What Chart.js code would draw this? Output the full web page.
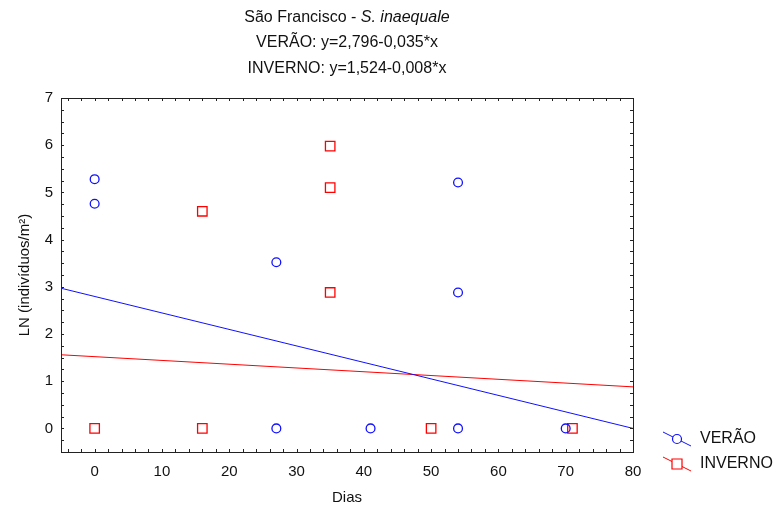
<!DOCTYPE html>
<html>
<head>
<meta charset="utf-8">
<script src="https://cdn.jsdelivr.net/npm/chart.js@4.4.1/dist/chart.umd.min.js"></script>
<style>
  body { margin: 0; background: #fff; }
  #wrap { width: 780px; height: 510px; }
</style>
</head>
<body>
<div id="wrap"><canvas id="grafico" width="780" height="510"></canvas></div>
<script>
// dados
const veraoX = [0, 0, 27, 27, 41, 54, 54, 54, 70]
const veraoY = [5.28, 4.76, 3.52, 0, 0, 5.21, 2.88, 0, 0]
const invernoX = [0, 16, 16, 35, 35, 35, 50, 71]
const invernoY = [0, 4.6, 0, 5.98, 5.1, 2.88, 0, 0]

// retas de regressao (extremos)
const retaX = [-5, 80]
const veraoReta = [2.97, 0.0]
const invernoReta = [1.56, 0.88]

const xTicks = [0, 10, 20, 30, 40, 50, 60, 70, 80]
const yTicks = [0, 1, 2, 3, 4, 5, 6, 7]

const titulo1a = "São Francisco - "
const titulo1b = "S. inaequale"
const titulo2 = "VERÃO: y=2,796-0,035*x"
const titulo3 = "INVERNO: y=1,524-0,008*x"
const nomeX = "Dias"
const nomeY = "LN (indivíduos/m²)"
const nomes = ["VERÃO", "INVERNO"]

const azul = "#1010ff"
const vermelho = "#ff0000"
const fonte = "'Liberation Sans', Arial, sans-serif"

function pares(xs, ys){
    return xs.map((x, i) => ({x: x, y: ys[i]}))
}

const extras = {
    id: "extras",
    afterDraw(chart){
        const ctx = chart.ctx
        const a = chart.chartArea
        const sx = chart.scales.x
        const sy = chart.scales.y
        ctx.save()
        // caixa
        ctx.strokeStyle = "#222"
        ctx.lineWidth = 1
        ctx.strokeRect(Math.round(a.left) + 0.5, Math.round(a.top) + 0.5,
            Math.round(a.right - a.left), Math.round(a.bottom - a.top))
        // marcas internas
        ctx.beginPath()
        for (let v = -4; v <= 80; v += 2) {
            const px = Math.round(sx.getPixelForValue(v)) + 0.5
            ctx.moveTo(px, a.bottom); ctx.lineTo(px, a.bottom - 3)
            ctx.moveTo(px, a.top); ctx.lineTo(px, a.top + 3)
        }
        for (let v = -0.25; v <= 7; v += 0.25) {
            const py = Math.round(sy.getPixelForValue(v)) + 0.5
            ctx.moveTo(a.left, py); ctx.lineTo(a.left + 3, py)
            ctx.moveTo(a.right, py); ctx.lineTo(a.right - 3, py)
        }
        ctx.stroke()

        // titulo
        const cx = (a.left + a.right) / 2
        ctx.fillStyle = "#111"
        ctx.textBaseline = "middle"
        ctx.font = "16px " + fonte
        const w1 = ctx.measureText(titulo1a).width
        ctx.font = "italic 16px " + fonte
        const w2 = ctx.measureText(titulo1b).width
        let x0 = cx - (w1 + w2) / 2
        ctx.textAlign = "left"
        ctx.font = "16px " + fonte
        ctx.fillText(titulo1a, x0, 18)
        ctx.font = "italic 16px " + fonte
        ctx.fillText(titulo1b, x0 + w1, 18)
        ctx.font = "16px " + fonte
        ctx.textAlign = "center"
        ctx.fillText(titulo2, cx, 43)
        ctx.fillText(titulo3, cx, 68.5)

        // nomes dos eixos
        ctx.font = "15px " + fonte
        ctx.fillText(nomeX, cx, 498)
        ctx.save()
        ctx.translate(25, (a.top + a.bottom) / 2)
        ctx.rotate(-Math.PI / 2)
        ctx.fillText(nomeY, 0, 0)
        ctx.restore()

        // legenda
        const itens = [
            {cor: azul, tipo: "circulo", y: 439},
            {cor: vermelho, tipo: "quadrado", y: 464}
        ]
        itens.forEach((it, i) => {
            ctx.strokeStyle = it.cor
            ctx.lineWidth = 1
            ctx.beginPath()
            ctx.moveTo(663, it.y - 7)
            ctx.lineTo(691, it.y + 7)
            ctx.stroke()
            ctx.fillStyle = "#fff"
            ctx.lineWidth = 1.2
            ctx.beginPath()
            if (it.tipo == "circulo") {
                ctx.arc(677, it.y, 4.5, 0, Math.PI * 2)
            } else {
                ctx.rect(672, it.y - 5, 10, 10)
            }
            ctx.fill()
            ctx.stroke()
            ctx.fillStyle = "#111"
            ctx.textAlign = "left"
            ctx.font = "16px " + fonte
            ctx.fillText(nomes[i], 700, it.y)
        })
        ctx.restore()
    }
}

const config = {
    type: "scatter",
    data: {
        datasets: [
            {
                label: nomes[0] + " reta",
                type: "line",
                data: pares(retaX, veraoReta),
                borderColor: azul,
                borderWidth: 1,
                pointRadius: 0,
                fill: false
            },
            {
                label: nomes[1] + " reta",
                type: "line",
                data: pares(retaX, invernoReta),
                borderColor: vermelho,
                borderWidth: 1,
                pointRadius: 0,
                fill: false
            },
            {
                label: nomes[0],
                data: pares(veraoX, veraoY),
                pointStyle: "circle",
                pointRadius: 4.4,
                borderColor: azul,
                backgroundColor: "rgba(0,0,0,0)",
                borderWidth: 1.3
            },
            {
                label: nomes[1],
                data: pares(invernoX, invernoY),
                pointStyle: "rect",
                pointRadius: 6.7,
                borderColor: vermelho,
                backgroundColor: "rgba(0,0,0,0)",
                borderWidth: 1.3
            }
        ]
    },
    options: {
        responsive: false,
        animation: false,
        layout: { padding: { left: 0, top: 98, right: 147, bottom: 0 } },
        plugins: {
            legend: { display: false },
            title: { display: false },
            tooltip: { enabled: false }
        },
        scales: {
            x: {
                type: "linear",
                min: -5,
                max: 80,
                grid: { display: false, drawTicks: false },
                border: { display: false },
                afterBuildTicks: (s) => { s.ticks = xTicks.map(v => ({value: v})) },
                afterFit: (s) => { s.height = 58 },
                ticks: { color: "#111", padding: 11, font: { size: 15, family: fonte }, maxRotation: 0 }
            },
            y: {
                type: "linear",
                min: -0.5,
                max: 7,
                grid: { display: false, drawTicks: false },
                border: { display: false },
                afterBuildTicks: (s) => { s.ticks = yTicks.map(v => ({value: v})) },
                afterFit: (s) => { s.width = 61 },
                ticks: { color: "#111", padding: 8, font: { size: 15, family: fonte } }
            }
        }
    },
    plugins: [extras]
}

new Chart(document.getElementById("grafico"), config)
</script>
</body>
</html>
